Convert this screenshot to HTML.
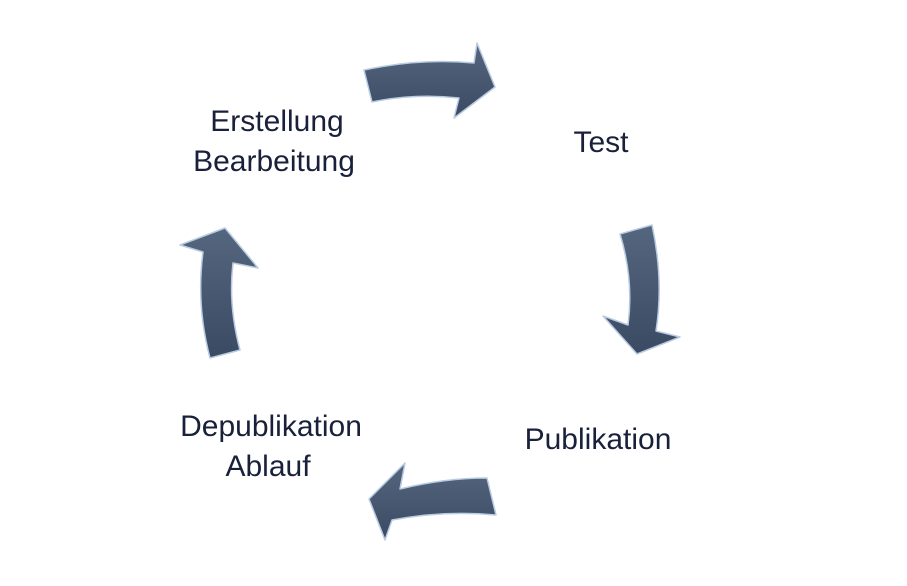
<!DOCTYPE html>
<html><head><meta charset="utf-8"><style>
html,body{margin:0;padding:0;background:#fff;}
body{width:907px;height:586px;position:relative;overflow:hidden;font-family:"Liberation Sans",sans-serif;}
.t{position:absolute;color:#18203a;font-size:30px;text-align:center;line-height:40px;transform:translateX(-50%);white-space:nowrap;}
</style></head><body>
<svg width="907" height="586" style="position:absolute;left:0;top:0">
<defs>
<linearGradient id="g" x1="0" y1="0" x2="0" y2="1">
<stop offset="0" stop-color="#55667f"/><stop offset="1" stop-color="#3b4a63"/></linearGradient>
</defs>
<g fill="url(#g)" stroke="#b9cbe0" stroke-width="1.5" stroke-linejoin="round">
<path d="M364,70 Q420,58 474,63 L477,43 L495,87 L454,118 L459,98 Q415,93 372,102 Z"/>
<path d="M620,234 L652,225 Q664,280 656,331 L680,337 L637,354 L603,316 L628,325 Q634,280 620,234 Z"/>
<path d="M487,478 L496,515 Q445,510 392,520 L385,540 L369,499 L405,463 L400,489 Q445,478 487,478 Z"/>
<path d="M240,350 L210,358 Q196,305 203,252 L180,245 L225,228 L258,268 L233,263 Q228,305 240,350 Z"/>
</g>
</svg>
<div class="t" style="left:277px;top:102px">Erstellung</div>
<div class="t" style="left:274px;top:142px">Bearbeitung</div>
<div class="t" style="left:601px;top:123px">Test</div>
<div class="t" style="left:598px;top:420px">Publikation</div>
<div class="t" style="left:271px;top:407px">Depublikation</div>
<div class="t" style="left:268px;top:447px">Ablauf</div>
</body></html>
